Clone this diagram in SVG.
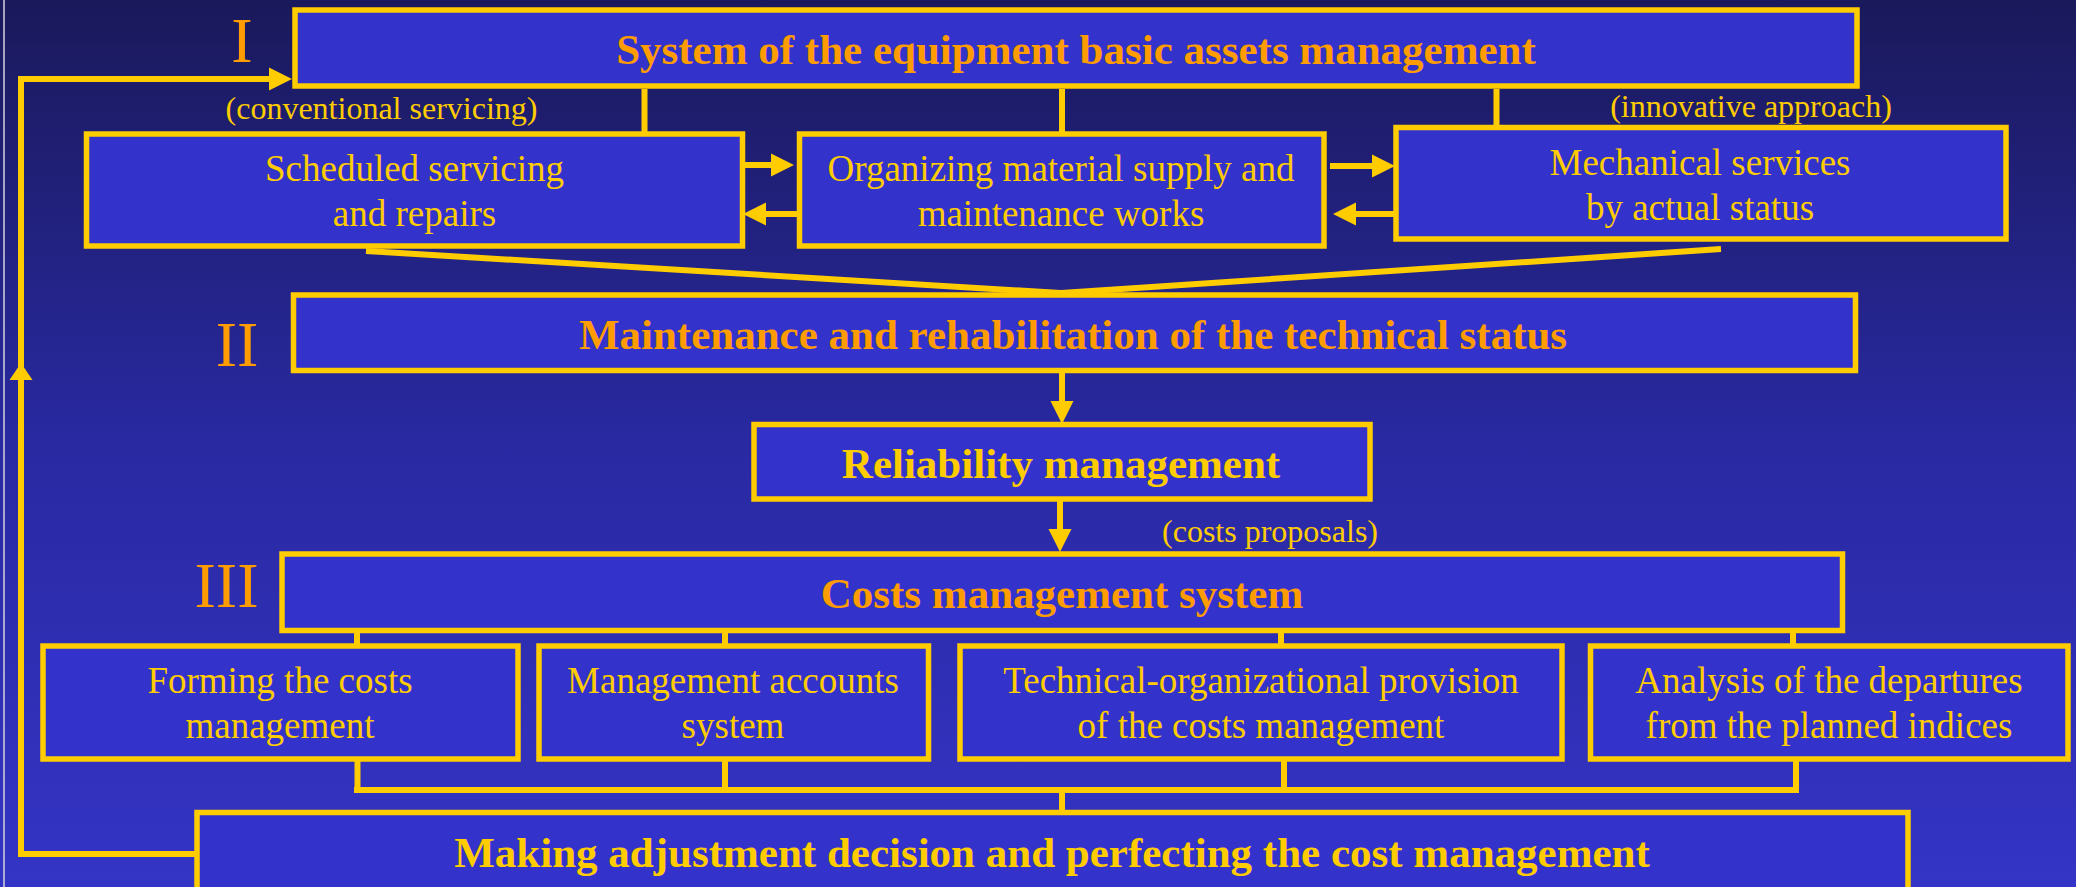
<svg xmlns="http://www.w3.org/2000/svg" width="2076" height="887" viewBox="0 0 2076 887">
<defs>
<linearGradient id="bg" x1="0" y1="0" x2="0" y2="1">
<stop offset="0" stop-color="#1a195b"/>
<stop offset="0.5" stop-color="#2929a2"/>
<stop offset="1" stop-color="#3434c6"/>
</linearGradient>
<marker id="ah" markerUnits="userSpaceOnUse" markerWidth="23" markerHeight="23" viewBox="0 -11.5 23 23" refX="0" refY="0" orient="auto" overflow="visible">
<path d="M0,-11.5 L23,0 L0,11.5 Z" fill="#FFCC00"/>
</marker>
<style>
.box{fill:#3333CC;stroke:#FFCC00;stroke-width:5.5}
.ln{fill:none;stroke:#FFCC00;stroke-width:6}
.t{font-family:"Liberation Serif","Times New Roman",serif;fill:#FFCC00;text-anchor:middle;font-size:37px}
.s{font-size:32px}
.b{font-weight:bold;font-size:43px}
.o{fill:#FF9C00}
.rn{font-size:64px;fill:#FF9C00}
</style>
</defs>
<rect x="0" y="0" width="2076" height="887" fill="url(#bg)"/>
<rect x="3.2" y="0" width="1.6" height="887" fill="#c8c8d8"/>

<g id="connectors">
<path class="ln" d="M644.5,89 V134 M1062,89 V134 M1496.5,89 V127.5"/>
<path class="ln" d="M744,165 H771" marker-end="url(#ah)"/>
<path class="ln" d="M800,214 H766" marker-end="url(#ah)"/>
<path class="ln" d="M1330,166 H1372" marker-end="url(#ah)"/>
<path class="ln" d="M1394,214 H1356" marker-end="url(#ah)"/>
<path class="ln" d="M366,251 L1061,293 L1721,249" stroke-width="7"/>
<path class="ln" d="M1062,373 V401" marker-end="url(#ah)"/>
<path class="ln" d="M1060,501 V529" marker-end="url(#ah)"/>
<path class="ln" d="M357,633 V646 M725,633 V646 M1281,633 V646 M1793,633 V646"/>
<path class="ln" d="M357.5,759 V790 M725,759 V790 M1284,759 V790 M1796,759 V790"/>
<path class="ln" d="M354,790 H1799" stroke-width="7"/>
<path class="ln" d="M1062,790 V812"/>
<path class="ln" d="M197,854 H21" stroke-width="8"/>
<path class="ln" d="M21,857 V79 H269" marker-end="url(#ah)"/>
<polygon points="21,363 32.5,380 9.5,380" fill="#FFCC00"/>
</g>

<g id="n_roman">
<text class="t rn" x="242" y="62">I</text>
<text class="t rn" x="237" y="366">II</text>
<text class="t rn" x="226.5" y="607">III</text>
</g>

<g id="n_top">
<rect class="box" x="295" y="10" width="1562" height="76"/>
<text class="t b o" x="1076" y="63.5">System of the equipment basic assets management</text>
</g>

<g id="labels">
<text class="t s" x="381.5" y="119">(conventional servicing)</text>
<text class="t s" x="1751" y="116.5">(innovative approach)</text>
<text class="t s" x="1270" y="541.5">(costs proposals)</text>
</g>

<g id="n_scheduled">
<rect class="box" x="86.5" y="134" width="656" height="112"/>
<text class="t" x="414.5" y="181">Scheduled servicing</text>
<text class="t" x="414.5" y="226">and repairs</text>
</g>

<g id="n_organizing">
<rect class="box" x="799.5" y="134" width="524.5" height="112"/>
<text class="t" x="1061" y="181">Organizing material supply and</text>
<text class="t" x="1061" y="226">maintenance works</text>
</g>

<g id="n_mechanical">
<rect class="box" x="1396" y="127.5" width="610" height="111.5"/>
<text class="t" x="1700" y="175">Mechanical services</text>
<text class="t" x="1700" y="220">by actual status</text>
</g>

<g id="n_maintenance">
<rect class="box" x="293.5" y="295" width="1562" height="75.5"/>
<text class="t b o" x="1073" y="349">Maintenance and rehabilitation of the technical status</text>
</g>

<g id="n_reliability">
<rect class="box" x="754" y="424.5" width="616" height="74.5"/>
<text class="t b" x="1061" y="478">Reliability management</text>
</g>

<g id="n_costs">
<rect class="box" x="282" y="554" width="1560.5" height="76.5"/>
<text class="t b o" x="1062" y="608">Costs management system</text>
</g>

<g id="n_forming">
<rect class="box" x="43" y="646" width="475" height="113"/>
<text class="t" x="280" y="693">Forming the costs</text>
<text class="t" x="280" y="738">management</text>
</g>

<g id="n_accounts">
<rect class="box" x="539" y="646" width="389.5" height="113"/>
<text class="t" x="733" y="693">Management accounts</text>
<text class="t" x="733" y="738">system</text>
</g>

<g id="n_technical">
<rect class="box" x="960" y="646" width="602" height="113"/>
<text class="t" x="1261" y="693">Technical-organizational provision</text>
<text class="t" x="1261" y="738">of the costs management</text>
</g>

<g id="n_analysis">
<rect class="box" x="1590.5" y="646" width="477.5" height="113"/>
<text class="t" x="1829" y="693">Analysis of the departures</text>
<text class="t" x="1829" y="738">from the planned indices</text>
</g>

<g id="n_making">
<rect class="box" x="197" y="812.5" width="1711" height="100"/>
<text class="t b" x="1052" y="866.7">Making adjustment decision and perfecting the cost management</text>
</g>
</svg>
